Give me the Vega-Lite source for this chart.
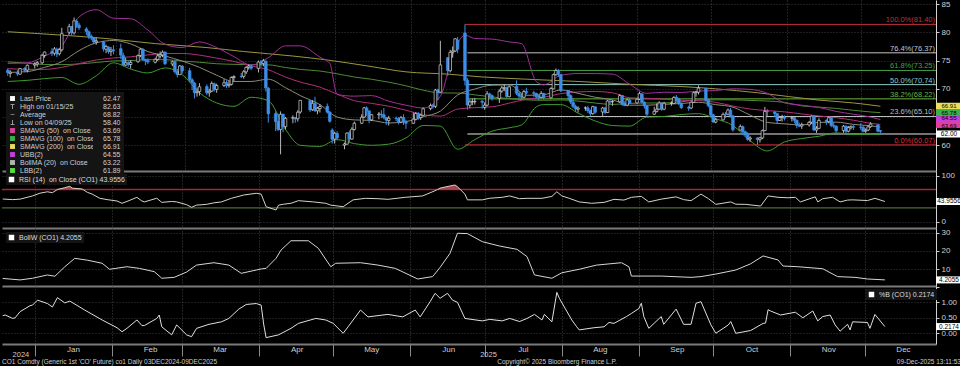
{
"$schema": "https://vega.github.io/schema/vega-lite/v6.json",
"background": "#000000",
"padding": 0,
"bounds": "flush",
"spacing": 0,
"config": {"view": {"stroke": null}, "font": "Liberation Sans", "axis": {"labelOverlap": false, "labelBound": false}},
"resolve": {
 "scale": {"x": "independent", "y": "independent", "color": "independent", "fill": "independent", "shape": "independent", "strokeDash": "independent"},
 "axis": {"x": "independent", "y": "independent"},
 "legend": {"color": "independent", "fill": "independent", "shape": "independent", "strokeDash": "independent"}
},
"datasets": {
 "ohlc": [
{"d":"2024-12-19","o":73.3,"h":73.6,"l":72.3,"c":72.88},
{"d":"2024-12-20","o":72.7,"h":73.3,"l":72.0,"c":72.94},
{"d":"2024-12-23","o":72.9,"h":73.3,"l":72.3,"c":72.63},
{"d":"2024-12-24","o":72.6,"h":73.7,"l":72.5,"c":73.58},
{"d":"2024-12-26","o":73.6,"h":73.9,"l":72.9,"c":73.26},
{"d":"2024-12-27","o":73.3,"h":74.3,"l":72.9,"c":74.17},
{"d":"2024-12-30","o":74.2,"h":74.7,"l":73.6,"c":74.39},
{"d":"2024-12-31","o":74.4,"h":74.9,"l":73.9,"c":74.64},
{"d":"2025-01-02","o":74.6,"h":76.2,"l":74.4,"c":75.93},
{"d":"2025-01-03","o":75.9,"h":76.6,"l":75.5,"c":76.51},
{"d":"2025-01-06","o":76.6,"h":77.2,"l":75.8,"c":76.30},
{"d":"2025-01-07","o":76.3,"h":77.4,"l":75.9,"c":77.05},
{"d":"2025-01-08","o":77.0,"h":77.3,"l":75.6,"c":76.16},
{"d":"2025-01-09","o":76.2,"h":77.2,"l":75.9,"c":76.92},
{"d":"2025-01-10","o":76.9,"h":80.8,"l":76.6,"c":79.76},
{"d":"2025-01-13","o":80.0,"h":81.5,"l":79.6,"c":81.01},
{"d":"2025-01-14","o":81.0,"h":81.1,"l":79.5,"c":79.92},
{"d":"2025-01-15","o":79.9,"h":82.63,"l":79.6,"c":82.03},
{"d":"2025-01-16","o":82.0,"h":82.3,"l":80.8,"c":81.29},
{"d":"2025-01-17","o":81.3,"h":81.7,"l":80.4,"c":80.79},
{"d":"2025-01-20","o":80.6,"h":80.9,"l":79.5,"c":80.15},
{"d":"2025-01-21","o":80.1,"h":80.3,"l":78.8,"c":79.29},
{"d":"2025-01-22","o":79.3,"h":79.6,"l":78.6,"c":79.00},
{"d":"2025-01-23","o":79.0,"h":79.1,"l":77.9,"c":78.29},
{"d":"2025-01-24","o":78.3,"h":79.1,"l":77.8,"c":78.50},
{"d":"2025-01-27","o":78.3,"h":78.5,"l":76.6,"c":77.08},
{"d":"2025-01-28","o":77.0,"h":77.8,"l":76.3,"c":77.49},
{"d":"2025-01-29","o":77.4,"h":77.5,"l":76.2,"c":76.58},
{"d":"2025-01-30","o":76.6,"h":77.4,"l":75.8,"c":76.87},
{"d":"2025-01-31","o":76.9,"h":77.7,"l":76.1,"c":76.76},
{"d":"2025-02-03","o":77.1,"h":78.0,"l":75.3,"c":75.96},
{"d":"2025-02-04","o":75.9,"h":76.4,"l":74.0,"c":74.20},
{"d":"2025-02-05","o":74.2,"h":75.5,"l":74.0,"c":74.61},
{"d":"2025-02-06","o":74.6,"h":75.0,"l":73.9,"c":74.29},
{"d":"2025-02-07","o":74.3,"h":75.1,"l":73.6,"c":74.66},
{"d":"2025-02-10","o":74.8,"h":76.1,"l":74.6,"c":75.87},
{"d":"2025-02-11","o":75.9,"h":77.2,"l":75.6,"c":77.00},
{"d":"2025-02-12","o":77.0,"h":77.2,"l":74.9,"c":75.18},
{"d":"2025-02-13","o":75.2,"h":75.3,"l":74.2,"c":75.02},
{"d":"2025-02-14","o":75.0,"h":75.4,"l":74.4,"c":74.74},
{"d":"2025-02-17","o":74.7,"h":75.5,"l":74.5,"c":75.22},
{"d":"2025-02-18","o":75.2,"h":76.2,"l":74.9,"c":75.84},
{"d":"2025-02-19","o":75.8,"h":76.6,"l":75.4,"c":76.04},
{"d":"2025-02-20","o":76.0,"h":76.8,"l":75.6,"c":76.48},
{"d":"2025-02-21","o":76.5,"h":76.6,"l":74.2,"c":74.43},
{"d":"2025-02-24","o":74.4,"h":75.0,"l":74.0,"c":74.78},
{"d":"2025-02-25","o":74.8,"h":75.0,"l":72.7,"c":73.02},
{"d":"2025-02-26","o":73.0,"h":73.5,"l":72.0,"c":72.53},
{"d":"2025-02-27","o":72.5,"h":74.2,"l":72.5,"c":74.04},
{"d":"2025-02-28","o":74.0,"h":74.2,"l":72.7,"c":73.18},
{"d":"2025-03-03","o":73.2,"h":73.7,"l":71.2,"c":71.62},
{"d":"2025-03-04","o":71.6,"h":71.9,"l":69.8,"c":71.04},
{"d":"2025-03-05","o":71.0,"h":71.2,"l":68.3,"c":69.30},
{"d":"2025-03-06","o":69.3,"h":70.2,"l":68.6,"c":69.46},
{"d":"2025-03-07","o":69.5,"h":71.0,"l":68.8,"c":70.36},
{"d":"2025-03-10","o":70.4,"h":70.8,"l":68.9,"c":69.28},
{"d":"2025-03-11","o":69.3,"h":70.0,"l":68.6,"c":69.56},
{"d":"2025-03-12","o":69.6,"h":71.3,"l":69.4,"c":70.95},
{"d":"2025-03-13","o":70.9,"h":71.1,"l":69.5,"c":69.88},
{"d":"2025-03-14","o":69.9,"h":70.9,"l":69.3,"c":70.58},
{"d":"2025-03-17","o":70.6,"h":71.7,"l":70.3,"c":71.07},
{"d":"2025-03-18","o":71.1,"h":71.5,"l":70.1,"c":70.56},
{"d":"2025-03-19","o":70.6,"h":71.4,"l":70.2,"c":70.78},
{"d":"2025-03-20","o":70.8,"h":72.2,"l":70.6,"c":72.00},
{"d":"2025-03-21","o":72.0,"h":72.4,"l":71.3,"c":72.16},
{"d":"2025-03-24","o":72.2,"h":72.8,"l":71.9,"c":72.16},
{"d":"2025-03-25","o":72.2,"h":73.3,"l":71.8,"c":73.02},
{"d":"2025-03-26","o":73.0,"h":74.0,"l":72.6,"c":73.79},
{"d":"2025-03-27","o":73.8,"h":74.3,"l":73.4,"c":74.03},
{"d":"2025-03-28","o":74.0,"h":74.3,"l":73.3,"c":73.63},
{"d":"2025-03-31","o":73.6,"h":75.0,"l":72.9,"c":74.74},
{"d":"2025-04-01","o":74.7,"h":75.1,"l":74.0,"c":74.49},
{"d":"2025-04-02","o":74.5,"h":75.3,"l":74.0,"c":74.95},
{"d":"2025-04-03","o":74.9,"h":75.0,"l":69.5,"c":70.14},
{"d":"2025-04-04","o":70.1,"h":70.3,"l":64.0,"c":65.58},
{"d":"2025-04-07","o":65.6,"h":66.0,"l":62.5,"c":64.21},
{"d":"2025-04-08","o":64.2,"h":65.6,"l":62.5,"c":62.82},
{"d":"2025-04-09","o":62.8,"h":66.0,"l":58.40,"c":65.48},
{"d":"2025-04-10","o":65.5,"h":65.6,"l":62.3,"c":63.33},
{"d":"2025-04-11","o":63.3,"h":65.0,"l":62.8,"c":64.76},
{"d":"2025-04-14","o":64.8,"h":65.3,"l":63.9,"c":64.88},
{"d":"2025-04-15","o":64.9,"h":65.0,"l":64.0,"c":64.67},
{"d":"2025-04-16","o":64.7,"h":66.2,"l":64.2,"c":65.85},
{"d":"2025-04-17","o":65.9,"h":68.0,"l":65.6,"c":67.96},
{"d":"2025-04-21","o":67.9,"h":68.0,"l":65.9,"c":66.26},
{"d":"2025-04-22","o":66.3,"h":68.0,"l":66.1,"c":67.44},
{"d":"2025-04-23","o":67.4,"h":68.6,"l":65.9,"c":66.12},
{"d":"2025-04-24","o":66.1,"h":66.8,"l":65.5,"c":66.55},
{"d":"2025-04-25","o":66.5,"h":67.3,"l":65.8,"c":66.87},
{"d":"2025-04-28","o":66.9,"h":67.4,"l":65.6,"c":65.86},
{"d":"2025-04-29","o":65.9,"h":66.0,"l":64.0,"c":64.25},
{"d":"2025-04-30","o":62.7,"h":63.0,"l":60.3,"c":61.06},
{"d":"2025-05-01","o":61.1,"h":62.4,"l":60.3,"c":62.13},
{"d":"2025-05-02","o":62.1,"h":62.5,"l":60.9,"c":61.29},
{"d":"2025-05-05","o":60.0,"h":60.5,"l":59.3,"c":60.23},
{"d":"2025-05-06","o":60.2,"h":62.3,"l":60.1,"c":62.15},
{"d":"2025-05-07","o":62.2,"h":62.6,"l":60.6,"c":61.12},
{"d":"2025-05-08","o":61.1,"h":63.2,"l":61.0,"c":62.84},
{"d":"2025-05-09","o":62.8,"h":64.2,"l":62.6,"c":63.91},
{"d":"2025-05-12","o":63.9,"h":65.5,"l":63.8,"c":64.96},
{"d":"2025-05-13","o":65.0,"h":66.8,"l":64.8,"c":66.63},
{"d":"2025-05-14","o":66.6,"h":66.9,"l":65.2,"c":66.09},
{"d":"2025-05-15","o":66.1,"h":66.1,"l":63.9,"c":64.53},
{"d":"2025-05-16","o":64.5,"h":65.5,"l":64.3,"c":65.41},
{"d":"2025-05-19","o":65.4,"h":65.9,"l":64.6,"c":65.54},
{"d":"2025-05-20","o":65.5,"h":66.2,"l":64.8,"c":65.38},
{"d":"2025-05-21","o":65.4,"h":66.6,"l":64.6,"c":64.91},
{"d":"2025-05-22","o":64.9,"h":65.0,"l":63.6,"c":64.44},
{"d":"2025-05-23","o":64.4,"h":65.2,"l":63.5,"c":64.78},
{"d":"2025-05-26","o":64.8,"h":65.1,"l":64.3,"c":64.74},
{"d":"2025-05-27","o":64.7,"h":65.0,"l":63.7,"c":64.09},
{"d":"2025-05-28","o":64.1,"h":65.2,"l":63.9,"c":64.90},
{"d":"2025-05-29","o":64.9,"h":65.5,"l":63.6,"c":64.15},
{"d":"2025-05-30","o":64.2,"h":64.5,"l":62.9,"c":63.90},
{"d":"2025-06-02","o":63.9,"h":65.8,"l":63.8,"c":64.63},
{"d":"2025-06-03","o":64.6,"h":65.9,"l":64.4,"c":65.63},
{"d":"2025-06-04","o":65.6,"h":65.9,"l":64.5,"c":64.86},
{"d":"2025-06-05","o":64.9,"h":65.6,"l":64.5,"c":65.34},
{"d":"2025-06-06","o":65.3,"h":66.7,"l":65.2,"c":66.47},
{"d":"2025-06-09","o":66.5,"h":67.4,"l":66.2,"c":67.04},
{"d":"2025-06-10","o":67.0,"h":67.3,"l":66.5,"c":66.87},
{"d":"2025-06-11","o":66.9,"h":70.0,"l":66.6,"c":69.77},
{"d":"2025-06-12","o":69.8,"h":70.0,"l":68.0,"c":69.36},
{"d":"2025-06-13","o":69.4,"h":78.5,"l":69.3,"c":74.23},
{"d":"2025-06-16","o":75.5,"h":75.6,"l":72.3,"c":73.23},
{"d":"2025-06-17","o":73.2,"h":76.9,"l":72.9,"c":76.45},
{"d":"2025-06-18","o":76.5,"h":77.5,"l":75.5,"c":76.70},
{"d":"2025-06-19","o":76.7,"h":79.0,"l":76.5,"c":78.85},
{"d":"2025-06-20","o":78.6,"h":79.2,"l":76.3,"c":77.01},
{"d":"2025-06-23","o":79.9,"h":81.40,"l":70.6,"c":71.48},
{"d":"2025-06-24","o":71.5,"h":71.9,"l":66.3,"c":67.14},
{"d":"2025-06-25","o":67.1,"h":68.1,"l":66.6,"c":67.68},
{"d":"2025-06-26","o":67.7,"h":68.3,"l":67.1,"c":67.73},
{"d":"2025-06-27","o":67.7,"h":68.4,"l":67.2,"c":67.77},
{"d":"2025-06-30","o":67.8,"h":68.0,"l":66.5,"c":67.61},
{"d":"2025-07-01","o":66.7,"h":67.6,"l":66.3,"c":67.11},
{"d":"2025-07-02","o":67.1,"h":69.6,"l":66.9,"c":69.11},
{"d":"2025-07-03","o":69.1,"h":69.3,"l":68.3,"c":68.80},
{"d":"2025-07-04","o":68.8,"h":69.0,"l":67.9,"c":68.30},
{"d":"2025-07-07","o":68.3,"h":69.9,"l":67.5,"c":69.58},
{"d":"2025-07-08","o":69.6,"h":70.5,"l":69.3,"c":70.15},
{"d":"2025-07-09","o":70.1,"h":70.8,"l":69.6,"c":70.19},
{"d":"2025-07-10","o":70.2,"h":70.4,"l":68.4,"c":68.64},
{"d":"2025-07-11","o":68.6,"h":70.6,"l":68.5,"c":70.36},
{"d":"2025-07-14","o":70.4,"h":71.5,"l":68.9,"c":69.21},
{"d":"2025-07-15","o":69.2,"h":69.6,"l":68.3,"c":68.71},
{"d":"2025-07-16","o":68.7,"h":69.2,"l":68.1,"c":68.52},
{"d":"2025-07-17","o":68.5,"h":69.8,"l":68.3,"c":69.52},
{"d":"2025-07-18","o":69.5,"h":70.2,"l":69.0,"c":69.28},
{"d":"2025-07-21","o":69.3,"h":69.6,"l":68.6,"c":69.21},
{"d":"2025-07-22","o":69.2,"h":69.3,"l":68.3,"c":68.59},
{"d":"2025-07-23","o":68.6,"h":69.0,"l":68.0,"c":68.51},
{"d":"2025-07-24","o":68.5,"h":69.6,"l":68.3,"c":69.18},
{"d":"2025-07-25","o":69.2,"h":69.3,"l":68.1,"c":68.44},
{"d":"2025-07-28","o":68.4,"h":70.3,"l":68.3,"c":70.04},
{"d":"2025-07-29","o":70.0,"h":72.7,"l":69.9,"c":72.51},
{"d":"2025-07-30","o":72.5,"h":73.6,"l":72.3,"c":73.24},
{"d":"2025-07-31","o":73.2,"h":73.5,"l":72.1,"c":72.53},
{"d":"2025-08-01","o":72.5,"h":72.6,"l":69.4,"c":69.67},
{"d":"2025-08-04","o":69.7,"h":69.8,"l":68.0,"c":68.76},
{"d":"2025-08-05","o":68.8,"h":69.0,"l":67.3,"c":67.64},
{"d":"2025-08-06","o":67.6,"h":68.3,"l":66.6,"c":66.89},
{"d":"2025-08-07","o":66.9,"h":67.2,"l":65.9,"c":66.43},
{"d":"2025-08-08","o":66.4,"h":66.9,"l":65.8,"c":66.59},
{"d":"2025-08-11","o":66.6,"h":66.9,"l":66.1,"c":66.63},
{"d":"2025-08-12","o":66.6,"h":67.0,"l":65.7,"c":66.12},
{"d":"2025-08-13","o":66.1,"h":66.3,"l":65.1,"c":65.63},
{"d":"2025-08-14","o":65.6,"h":67.0,"l":65.4,"c":66.84},
{"d":"2025-08-15","o":66.8,"h":66.9,"l":65.6,"c":65.85},
{"d":"2025-08-18","o":65.9,"h":66.8,"l":65.2,"c":66.60},
{"d":"2025-08-19","o":66.6,"h":66.8,"l":65.5,"c":65.79},
{"d":"2025-08-20","o":65.8,"h":68.0,"l":65.7,"c":67.84},
{"d":"2025-08-21","o":67.8,"h":68.2,"l":67.3,"c":67.67},
{"d":"2025-08-22","o":67.7,"h":68.0,"l":67.0,"c":67.73},
{"d":"2025-08-25","o":67.7,"h":69.1,"l":67.6,"c":68.80},
{"d":"2025-08-26","o":68.8,"h":68.9,"l":67.0,"c":67.22},
{"d":"2025-08-27","o":67.2,"h":67.8,"l":66.9,"c":67.05},
{"d":"2025-08-28","o":67.1,"h":68.3,"l":66.9,"c":68.05},
{"d":"2025-08-29","o":68.0,"h":68.4,"l":67.3,"c":67.48},
{"d":"2025-09-01","o":67.5,"h":68.3,"l":67.4,"c":68.15},
{"d":"2025-09-02","o":68.2,"h":69.5,"l":68.0,"c":69.14},
{"d":"2025-09-03","o":69.1,"h":69.2,"l":67.4,"c":67.60},
{"d":"2025-09-04","o":67.6,"h":67.8,"l":66.5,"c":66.99},
{"d":"2025-09-05","o":67.0,"h":67.1,"l":65.1,"c":65.50},
{"d":"2025-09-08","o":65.5,"h":66.8,"l":65.4,"c":66.02},
{"d":"2025-09-09","o":66.0,"h":67.4,"l":65.8,"c":66.39},
{"d":"2025-09-10","o":66.4,"h":67.8,"l":66.3,"c":67.49},
{"d":"2025-09-11","o":67.5,"h":67.6,"l":66.1,"c":66.37},
{"d":"2025-09-12","o":66.4,"h":67.7,"l":66.2,"c":67.44},
{"d":"2025-09-15","o":67.4,"h":67.8,"l":67.0,"c":67.44},
{"d":"2025-09-16","o":67.4,"h":68.7,"l":67.3,"c":68.47},
{"d":"2025-09-17","o":68.5,"h":68.9,"l":67.7,"c":68.22},
{"d":"2025-09-18","o":68.2,"h":68.4,"l":67.1,"c":67.44},
{"d":"2025-09-19","o":67.4,"h":67.6,"l":66.4,"c":66.68},
{"d":"2025-09-22","o":66.7,"h":67.0,"l":66.1,"c":66.57},
{"d":"2025-09-23","o":66.6,"h":67.8,"l":66.4,"c":67.63},
{"d":"2025-09-24","o":67.6,"h":69.5,"l":67.5,"c":69.31},
{"d":"2025-09-25","o":69.3,"h":69.6,"l":68.6,"c":69.42},
{"d":"2025-09-26","o":69.4,"h":70.6,"l":69.0,"c":70.13},
{"d":"2025-09-29","o":70.1,"h":70.1,"l":67.8,"c":67.97},
{"d":"2025-09-30","o":68.0,"h":68.1,"l":66.7,"c":67.02},
{"d":"2025-10-01","o":67.0,"h":67.2,"l":65.1,"c":65.35},
{"d":"2025-10-02","o":65.4,"h":65.6,"l":64.0,"c":64.11},
{"d":"2025-10-03","o":64.1,"h":64.9,"l":63.9,"c":64.53},
{"d":"2025-10-06","o":64.5,"h":65.8,"l":64.4,"c":65.47},
{"d":"2025-10-07","o":65.5,"h":65.9,"l":64.8,"c":65.45},
{"d":"2025-10-08","o":65.5,"h":66.5,"l":65.3,"c":66.25},
{"d":"2025-10-09","o":66.2,"h":66.6,"l":64.9,"c":65.22},
{"d":"2025-10-10","o":65.2,"h":65.4,"l":62.4,"c":62.73},
{"d":"2025-10-13","o":62.7,"h":63.7,"l":62.6,"c":63.32},
{"d":"2025-10-14","o":63.3,"h":63.5,"l":61.8,"c":62.39},
{"d":"2025-10-15","o":62.4,"h":62.6,"l":61.5,"c":61.91},
{"d":"2025-10-16","o":61.9,"h":62.3,"l":60.8,"c":61.06},
{"d":"2025-10-17","o":61.1,"h":61.6,"l":60.6,"c":61.29},
{"d":"2025-10-20","o":61.3,"h":61.4,"l":60.07,"c":61.01},
{"d":"2025-10-21","o":61.0,"h":61.5,"l":60.5,"c":61.32},
{"d":"2025-10-22","o":61.3,"h":62.8,"l":61.1,"c":62.59},
{"d":"2025-10-23","o":62.6,"h":66.8,"l":62.5,"c":65.99},
{"d":"2025-10-24","o":66.0,"h":66.4,"l":65.2,"c":65.94},
{"d":"2025-10-27","o":65.9,"h":66.0,"l":65.0,"c":65.62},
{"d":"2025-10-28","o":65.6,"h":65.7,"l":63.9,"c":64.40},
{"d":"2025-10-29","o":64.4,"h":65.2,"l":64.3,"c":64.92},
{"d":"2025-10-30","o":64.9,"h":65.4,"l":64.2,"c":65.00},
{"d":"2025-10-31","o":65.0,"h":65.3,"l":64.4,"c":64.77},
{"d":"2025-11-03","o":64.8,"h":65.2,"l":64.2,"c":64.89},
{"d":"2025-11-04","o":64.9,"h":65.0,"l":63.9,"c":64.44},
{"d":"2025-11-05","o":64.4,"h":64.6,"l":63.0,"c":63.52},
{"d":"2025-11-06","o":63.5,"h":64.0,"l":63.2,"c":63.38},
{"d":"2025-11-07","o":63.4,"h":64.0,"l":62.9,"c":63.63},
{"d":"2025-11-10","o":63.6,"h":64.3,"l":63.3,"c":64.06},
{"d":"2025-11-11","o":64.1,"h":65.3,"l":63.8,"c":65.16},
{"d":"2025-11-12","o":65.2,"h":65.2,"l":62.5,"c":62.71},
{"d":"2025-11-13","o":62.7,"h":63.4,"l":62.2,"c":63.01},
{"d":"2025-11-14","o":63.0,"h":64.8,"l":62.9,"c":64.39},
{"d":"2025-11-17","o":64.4,"h":64.6,"l":63.6,"c":64.20},
{"d":"2025-11-18","o":64.2,"h":65.1,"l":63.9,"c":64.89},
{"d":"2025-11-19","o":64.9,"h":64.9,"l":63.2,"c":63.51},
{"d":"2025-11-20","o":63.5,"h":64.1,"l":63.0,"c":63.38},
{"d":"2025-11-21","o":63.4,"h":63.5,"l":62.3,"c":62.56},
{"d":"2025-11-24","o":62.6,"h":63.6,"l":62.2,"c":63.37},
{"d":"2025-11-25","o":63.4,"h":63.5,"l":61.9,"c":62.48},
{"d":"2025-11-26","o":62.5,"h":63.4,"l":62.3,"c":63.13},
{"d":"2025-11-27","o":63.1,"h":63.5,"l":62.8,"c":63.34},
{"d":"2025-11-28","o":63.3,"h":63.6,"l":62.7,"c":63.20},
{"d":"2025-12-01","o":63.2,"h":63.9,"l":62.7,"c":63.17},
{"d":"2025-12-02","o":63.2,"h":63.5,"l":62.3,"c":62.45},
{"d":"2025-12-03","o":62.5,"h":63.0,"l":62.2,"c":62.67},
{"d":"2025-12-04","o":62.7,"h":63.5,"l":62.5,"c":63.26},
{"d":"2025-12-05","o":63.3,"h":64.1,"l":63.1,"c":63.75},
{"d":"2025-12-08","o":63.6,"h":63.8,"l":62.3,"c":62.49},
{"d":"2025-12-09","o":62.6,"h":62.7,"l":62.0,"c":62.47}
 ],
 "sma50": [
{"d":"2024-12-19","v":73.56},{"d":"2024-12-27","v":73.45},{"d":"2025-01-03","v":73.44},{"d":"2025-01-10","v":73.8},{"d":"2025-01-17","v":74.46},{"d":"2025-01-24","v":75.1},{"d":"2025-01-31","v":75.46},{"d":"2025-02-07","v":75.66},{"d":"2025-02-14","v":76.0},{"d":"2025-02-21","v":76.24},{"d":"2025-02-28","v":76.26},{"d":"2025-03-07","v":75.96},{"d":"2025-03-14","v":75.43},{"d":"2025-03-21","v":74.84},{"d":"2025-03-28","v":74.07},{"d":"2025-04-04","v":73.37},{"d":"2025-04-11","v":72.08},{"d":"2025-04-17","v":71.19},{"d":"2025-04-25","v":70.3},{"d":"2025-05-02","v":69.06},{"d":"2025-05-09","v":67.91},{"d":"2025-05-16","v":67.42},{"d":"2025-05-23","v":66.91},{"d":"2025-05-30","v":66.21},{"d":"2025-06-06","v":65.42},{"d":"2025-06-13","v":65.17},{"d":"2025-06-20","v":66.41},{"d":"2025-06-27","v":66.66},{"d":"2025-07-04","v":66.81},{"d":"2025-07-11","v":67.46},{"d":"2025-07-18","v":68.16},{"d":"2025-07-25","v":68.49},{"d":"2025-08-01","v":69.15},{"d":"2025-08-08","v":69.45},{"d":"2025-08-15","v":69.53},{"d":"2025-08-22","v":69.29},{"d":"2025-08-29","v":68.41},{"d":"2025-09-05","v":68.32},{"d":"2025-09-12","v":68.17},{"d":"2025-09-19","v":67.95},{"d":"2025-09-26","v":67.91},{"d":"2025-10-03","v":67.61},{"d":"2025-10-10","v":66.95},{"d":"2025-10-17","v":66.42},{"d":"2025-10-24","v":66.14},{"d":"2025-10-31","v":65.92},{"d":"2025-11-07","v":65.55},{"d":"2025-11-14","v":65.19},{"d":"2025-11-21","v":64.89},{"d":"2025-11-28","v":64.44},{"d":"2025-12-05","v":63.89},{"d":"2025-12-09","v":63.69}
 ],
 "sma100": [
{"d":"2024-12-19","v":74.76},{"d":"2024-12-27","v":74.53},{"d":"2025-01-03","v":74.3},{"d":"2025-01-10","v":74.28},{"d":"2025-01-17","v":74.4},{"d":"2025-01-24","v":74.66},{"d":"2025-01-31","v":74.93},{"d":"2025-02-07","v":75.0},{"d":"2025-02-14","v":75.15},{"d":"2025-02-21","v":75.16},{"d":"2025-02-28","v":74.91},{"d":"2025-03-07","v":74.7},{"d":"2025-03-14","v":74.44},{"d":"2025-03-21","v":74.33},{"d":"2025-03-28","v":74.27},{"d":"2025-04-04","v":74.24},{"d":"2025-04-11","v":73.77},{"d":"2025-04-17","v":73.43},{"d":"2025-04-25","v":73.15},{"d":"2025-05-02","v":72.65},{"d":"2025-05-09","v":72.09},{"d":"2025-05-16","v":71.69},{"d":"2025-05-23","v":71.17},{"d":"2025-05-30","v":70.53},{"d":"2025-06-06","v":69.75},{"d":"2025-06-13","v":69.27},{"d":"2025-06-20","v":69.25},{"d":"2025-06-27","v":68.93},{"d":"2025-07-04","v":68.56},{"d":"2025-07-11","v":68.26},{"d":"2025-07-18","v":68.04},{"d":"2025-07-25","v":67.96},{"d":"2025-08-01","v":68.03},{"d":"2025-08-08","v":67.83},{"d":"2025-08-15","v":67.48},{"d":"2025-08-22","v":67.23},{"d":"2025-08-29","v":67.41},{"d":"2025-09-05","v":67.49},{"d":"2025-09-12","v":67.49},{"d":"2025-09-19","v":67.7},{"d":"2025-09-26","v":68.04},{"d":"2025-10-03","v":68.05},{"d":"2025-10-10","v":68.05},{"d":"2025-10-17","v":67.94},{"d":"2025-10-24","v":67.84},{"d":"2025-10-31","v":67.6},{"d":"2025-11-07","v":66.98},{"d":"2025-11-14","v":66.76},{"d":"2025-11-21","v":66.53},{"d":"2025-11-28","v":66.2},{"d":"2025-12-05","v":65.9},{"d":"2025-12-09","v":65.78}
 ],
 "sma200": [
{"d":"2024-12-19","v":80.1},{"d":"2025-01-10","v":79.5},{"d":"2025-01-28","v":78.9},{"d":"2025-02-17","v":78.0},{"d":"2025-03-10","v":77.3},{"d":"2025-03-25","v":76.6},{"d":"2025-04-14","v":75.8},{"d":"2025-04-28","v":75.1},{"d":"2025-05-15","v":74.0},{"d":"2025-05-30","v":73.0},{"d":"2025-06-16","v":72.6},{"d":"2025-06-30","v":72.1},{"d":"2025-07-18","v":71.7},{"d":"2025-08-08","v":71.3},{"d":"2025-08-29","v":70.8},{"d":"2025-09-19","v":70.4},{"d":"2025-10-03","v":70.0},{"d":"2025-10-20","v":69.3},{"d":"2025-11-14","v":68.0},{"d":"2025-11-28","v":67.5},{"d":"2025-12-09","v":66.91}
 ],
 "bbma": [
{"d":"2024-12-19","v":72.9},{"d":"2024-12-27","v":73.05},{"d":"2025-01-03","v":73.8},{"d":"2025-01-10","v":74.8},{"d":"2025-01-17","v":76.75},{"d":"2025-01-24","v":78.15},{"d":"2025-01-31","v":78.55},{"d":"2025-02-07","v":77.95},{"d":"2025-02-14","v":76.6},{"d":"2025-02-21","v":75.8},{"d":"2025-02-28","v":74.9},{"d":"2025-03-07","v":73.8},{"d":"2025-03-14","v":72.4},{"d":"2025-03-21","v":71.3},{"d":"2025-03-28","v":71.3},{"d":"2025-04-04","v":71.7},{"d":"2025-04-11","v":70.2},{"d":"2025-04-17","v":68.8},{"d":"2025-04-25","v":67.2},{"d":"2025-05-02","v":65.0},{"d":"2025-05-09","v":64.5},{"d":"2025-05-16","v":64.4},{"d":"2025-05-23","v":63.95},{"d":"2025-05-30","v":64.2},{"d":"2025-06-06","v":65.05},{"d":"2025-06-13","v":66.05},{"d":"2025-06-20","v":68.9},{"d":"2025-06-27","v":69.95},{"d":"2025-07-04","v":70.65},{"d":"2025-07-11","v":70.7},{"d":"2025-07-18","v":68.85},{"d":"2025-07-25","v":68.95},{"d":"2025-08-01","v":69.8},{"d":"2025-08-08","v":69.2},{"d":"2025-08-15","v":68.5},{"d":"2025-08-22","v":68.05},{"d":"2025-08-29","v":67.1},{"d":"2025-09-05","v":67.1},{"d":"2025-09-12","v":67.25},{"d":"2025-09-19","v":67.4},{"d":"2025-09-26","v":67.6},{"d":"2025-10-03","v":67.2},{"d":"2025-10-10","v":66.75},{"d":"2025-10-17","v":65.35},{"d":"2025-10-24","v":64.05},{"d":"2025-10-31","v":63.8},{"d":"2025-11-07","v":63.6},{"d":"2025-11-14","v":64.05},{"d":"2025-11-21","v":64.1},{"d":"2025-11-28","v":63.7},{"d":"2025-12-05","v":63.45},{"d":"2025-12-09","v":63.22}
 ],
 "ubb": [
{"d":"2024-12-19","v":74.5},{"d":"2024-12-27","v":74.6},{"d":"2025-01-03","v":75.8},{"d":"2025-01-10","v":77.6},{"d":"2025-01-17","v":82.7},{"d":"2025-01-24","v":84.0},{"d":"2025-01-31","v":82.5},{"d":"2025-02-07","v":82.4},{"d":"2025-02-14","v":80.4},{"d":"2025-02-21","v":77.9},{"d":"2025-02-28","v":77.3},{"d":"2025-03-07","v":78.3},{"d":"2025-03-14","v":77.3},{"d":"2025-03-21","v":75.7},{"d":"2025-03-28","v":74.2},{"d":"2025-04-04","v":75.5},{"d":"2025-04-11","v":77.6},{"d":"2025-04-17","v":77.6},{"d":"2025-04-25","v":75.6},{"d":"2025-04-29","v":74.5},{"d":"2025-05-02","v":69.0},{"d":"2025-05-09","v":68.7},{"d":"2025-05-16","v":68.8},{"d":"2025-05-23","v":67.8},{"d":"2025-05-30","v":67.1},{"d":"2025-06-06","v":66.6},{"d":"2025-06-13","v":68.7},{"d":"2025-06-18","v":76.0},{"d":"2025-06-23","v":79.5},{"d":"2025-06-27","v":78.9},{"d":"2025-07-04","v":78.8},{"d":"2025-07-11","v":78.3},{"d":"2025-07-16","v":78.0},{"d":"2025-07-22","v":71.3},{"d":"2025-07-25","v":70.7},{"d":"2025-08-01","v":72.4},{"d":"2025-08-08","v":72.7},{"d":"2025-08-15","v":72.7},{"d":"2025-08-22","v":72.6},{"d":"2025-08-29","v":70.8},{"d":"2025-09-05","v":69.2},{"d":"2025-09-12","v":69.4},{"d":"2025-09-19","v":69.35},{"d":"2025-09-26","v":69.6},{"d":"2025-10-03","v":69.7},{"d":"2025-10-10","v":70.0},{"d":"2025-10-17","v":69.9},{"d":"2025-10-24","v":69.2},{"d":"2025-10-31","v":67.5},{"d":"2025-11-07","v":67.1},{"d":"2025-11-14","v":66.7},{"d":"2025-11-21","v":66.0},{"d":"2025-11-28","v":65.5},{"d":"2025-12-05","v":65.0},{"d":"2025-12-09","v":64.55}
 ],
 "lbb": [
{"d":"2024-12-19","v":71.3},{"d":"2024-12-27","v":71.5},{"d":"2025-01-03","v":71.8},{"d":"2025-01-10","v":72.0},{"d":"2025-01-17","v":70.8},{"d":"2025-01-24","v":72.3},{"d":"2025-01-31","v":74.6},{"d":"2025-02-07","v":73.5},{"d":"2025-02-14","v":72.8},{"d":"2025-02-21","v":73.7},{"d":"2025-02-28","v":72.5},{"d":"2025-03-07","v":69.3},{"d":"2025-03-14","v":67.5},{"d":"2025-03-21","v":66.9},{"d":"2025-03-28","v":68.5},{"d":"2025-04-04","v":67.9},{"d":"2025-04-11","v":62.8},{"d":"2025-04-17","v":60.0},{"d":"2025-04-25","v":59.8},{"d":"2025-05-02","v":61.0},{"d":"2025-05-09","v":60.3},{"d":"2025-05-16","v":60.0},{"d":"2025-05-23","v":60.2},{"d":"2025-05-30","v":61.3},{"d":"2025-06-06","v":63.5},{"d":"2025-06-13","v":63.4},{"d":"2025-06-20","v":59.3},{"d":"2025-06-27","v":61.0},{"d":"2025-07-04","v":62.5},{"d":"2025-07-11","v":63.1},{"d":"2025-07-16","v":63.6},{"d":"2025-07-22","v":66.8},{"d":"2025-07-25","v":67.2},{"d":"2025-08-01","v":67.2},{"d":"2025-08-08","v":65.7},{"d":"2025-08-15","v":64.3},{"d":"2025-08-22","v":63.5},{"d":"2025-08-29","v":63.4},{"d":"2025-09-05","v":65.0},{"d":"2025-09-12","v":65.1},{"d":"2025-09-19","v":65.45},{"d":"2025-09-26","v":65.6},{"d":"2025-10-03","v":64.7},{"d":"2025-10-10","v":63.5},{"d":"2025-10-17","v":60.8},{"d":"2025-10-24","v":59.0},{"d":"2025-10-31","v":60.6},{"d":"2025-11-07","v":61.2},{"d":"2025-11-14","v":61.6},{"d":"2025-11-21","v":62.2},{"d":"2025-11-28","v":61.9},{"d":"2025-12-05","v":61.95},{"d":"2025-12-09","v":61.89}
 ],
 "fib": [
{"d":"2025-06-23","lab":"100.0%(81.40)","v":81.40},
{"d":"2025-06-24","lab":"76.4%(76.37)","v":76.37},
{"d":"2025-06-24","lab":"61.8%(73.25)","v":73.25},
{"d":"2025-06-24","lab":"50.0%(70.74)","v":70.74},
{"d":"2025-06-24","lab":"38.2%(68.22)","v":68.22},
{"d":"2025-06-24","lab":"23.6%(65.10)","v":65.10},
{"d":"2025-06-23","lab":"0.0%(60.07)","v":60.07}
 ],
 "rsi": [
{"d":"2024-12-19","v":49.3},{"d":"2024-12-23","v":48},{"d":"2024-12-26","v":49},{"d":"2024-12-31","v":56},{"d":"2025-01-03","v":62},{"d":"2025-01-06","v":65},{"d":"2025-01-08","v":63},{"d":"2025-01-10","v":70},{"d":"2025-01-13","v":74},{"d":"2025-01-15","v":77},{"d":"2025-01-16","v":73},{"d":"2025-01-20","v":71},{"d":"2025-01-22","v":64},{"d":"2025-01-24","v":60},{"d":"2025-01-27","v":51},{"d":"2025-01-30","v":48},{"d":"2025-02-03","v":45},{"d":"2025-02-05","v":40},{"d":"2025-02-07","v":44},{"d":"2025-02-11","v":53},{"d":"2025-02-13","v":45},{"d":"2025-02-14","v":43},{"d":"2025-02-19","v":51},{"d":"2025-02-21","v":42},{"d":"2025-02-25","v":44},{"d":"2025-02-27","v":43},{"d":"2025-03-03","v":37},{"d":"2025-03-05","v":31.3},{"d":"2025-03-07","v":36},{"d":"2025-03-11","v":37.7},{"d":"2025-03-14","v":41},{"d":"2025-03-17","v":43},{"d":"2025-03-21","v":50.8},{"d":"2025-03-26","v":58},{"d":"2025-03-31","v":61.7},{"d":"2025-04-02","v":60},{"d":"2025-04-04","v":32.6},{"d":"2025-04-08","v":25.4},{"d":"2025-04-09","v":36},{"d":"2025-04-11","v":38},{"d":"2025-04-14","v":40},{"d":"2025-04-17","v":45.7},{"d":"2025-04-23","v":43},{"d":"2025-04-28","v":40},{"d":"2025-04-30","v":36},{"d":"2025-05-05","v":32.6},{"d":"2025-05-09","v":47.5},{"d":"2025-05-14","v":50.8},{"d":"2025-05-19","v":50},{"d":"2025-05-23","v":48.6},{"d":"2025-05-30","v":53},{"d":"2025-06-06","v":56},{"d":"2025-06-11","v":67.4},{"d":"2025-06-12","v":70},{"d":"2025-06-13","v":73},{"d":"2025-06-17","v":77.6},{"d":"2025-06-19","v":79.8},{"d":"2025-06-20","v":76},{"d":"2025-06-23","v":60},{"d":"2025-06-24","v":47.5},{"d":"2025-06-30","v":47.5},{"d":"2025-07-03","v":51},{"d":"2025-07-08","v":53},{"d":"2025-07-11","v":56},{"d":"2025-07-15","v":50},{"d":"2025-07-18","v":50.8},{"d":"2025-07-24","v":50.8},{"d":"2025-07-28","v":55},{"d":"2025-07-30","v":65},{"d":"2025-08-01","v":56},{"d":"2025-08-04","v":50.8},{"d":"2025-08-08","v":43},{"d":"2025-08-13","v":40},{"d":"2025-08-18","v":42},{"d":"2025-08-22","v":48.6},{"d":"2025-08-26","v":47},{"d":"2025-08-29","v":53},{"d":"2025-09-02","v":55},{"d":"2025-09-05","v":43},{"d":"2025-09-10","v":49},{"d":"2025-09-16","v":54},{"d":"2025-09-19","v":48},{"d":"2025-09-22","v":45.7},{"d":"2025-09-26","v":60},{"d":"2025-09-29","v":50},{"d":"2025-10-02","v":37.7},{"d":"2025-10-08","v":43},{"d":"2025-10-10","v":38},{"d":"2025-10-14","v":37.7},{"d":"2025-10-20","v":34},{"d":"2025-10-23","v":56},{"d":"2025-10-27","v":53},{"d":"2025-10-31","v":52},{"d":"2025-11-03","v":53},{"d":"2025-11-05","v":43},{"d":"2025-11-11","v":54},{"d":"2025-11-12","v":43},{"d":"2025-11-14","v":50},{"d":"2025-11-18","v":53},{"d":"2025-11-21","v":43},{"d":"2025-11-24","v":47},{"d":"2025-11-26","v":47.5},{"d":"2025-12-02","v":46},{"d":"2025-12-05","v":50.8},{"d":"2025-12-09","v":43.96}
 ],
 "rob": [
{"d":"2025-01-10","v":70,"g":"a"},{"d":"2025-01-13","v":74,"g":"a"},{"d":"2025-01-15","v":77,"g":"a"},{"d":"2025-01-16","v":73,"g":"a"},{"d":"2025-01-20","v":71,"g":"a"},{"d":"2025-01-20T07:00:00","v":70,"g":"a"},
{"d":"2025-06-12","v":70,"g":"b"},{"d":"2025-06-13","v":73,"g":"b"},{"d":"2025-06-17","v":77.6,"g":"b"},{"d":"2025-06-19","v":79.8,"g":"b"},{"d":"2025-06-20","v":76,"g":"b"},{"d":"2025-06-21T03:00:00","v":70,"g":"b"}
 ],
 "bw": [
{"d":"2024-12-19","v":5.0},{"d":"2024-12-26","v":4.2},{"d":"2024-12-31","v":5.1},{"d":"2025-01-06","v":6.9},{"d":"2025-01-09","v":6.2},{"d":"2025-01-13","v":11.4},{"d":"2025-01-17","v":16.0},{"d":"2025-01-22","v":15.0},{"d":"2025-01-28","v":13.3},{"d":"2025-01-31","v":10.0},{"d":"2025-02-07","v":11.4},{"d":"2025-02-12","v":10.5},{"d":"2025-02-18","v":8.7},{"d":"2025-02-21","v":5.1},{"d":"2025-02-26","v":5.6},{"d":"2025-03-03","v":8.5},{"d":"2025-03-07","v":12.3},{"d":"2025-03-14","v":13.6},{"d":"2025-03-20","v":12.3},{"d":"2025-03-25","v":7.8},{"d":"2025-03-31","v":9.6},{"d":"2025-04-02","v":10.2},{"d":"2025-04-04","v":10.5},{"d":"2025-04-08","v":16},{"d":"2025-04-10","v":20.5},{"d":"2025-04-14","v":25.6},{"d":"2025-04-21","v":25.6},{"d":"2025-04-25","v":21.5},{"d":"2025-04-30","v":11.4},{"d":"2025-05-02","v":13.3},{"d":"2025-05-12","v":13.6},{"d":"2025-05-19","v":12.3},{"d":"2025-05-26","v":10.5},{"d":"2025-06-04","v":4.7},{"d":"2025-06-10","v":6.0},{"d":"2025-06-13","v":11},{"d":"2025-06-17","v":18.7},{"d":"2025-06-20","v":29.7},{"d":"2025-06-24","v":29.5},{"d":"2025-06-30","v":25.1},{"d":"2025-07-07","v":22.7},{"d":"2025-07-14","v":20.9},{"d":"2025-07-18","v":16.9},{"d":"2025-07-21","v":6.9},{"d":"2025-07-28","v":5.1},{"d":"2025-08-01","v":8.1},{"d":"2025-08-08","v":10.0},{"d":"2025-08-15","v":12.3},{"d":"2025-08-25","v":13.6},{"d":"2025-08-28","v":11.4},{"d":"2025-08-29","v":6.3},{"d":"2025-09-10","v":6.3},{"d":"2025-09-22","v":5.6},{"d":"2025-09-26","v":6.0},{"d":"2025-10-02","v":7.4},{"d":"2025-10-10","v":9.6},{"d":"2025-10-16","v":13},{"d":"2025-10-21","v":17.3},{"d":"2025-10-27","v":15.1},{"d":"2025-10-29","v":11.8},{"d":"2025-11-04","v":11.4},{"d":"2025-11-14","v":10.3},{"d":"2025-11-20","v":6.0},{"d":"2025-11-27","v":5.6},{"d":"2025-12-02","v":4.7},{"d":"2025-12-09","v":4.21}
 ],
 "pb": [
{"d":"2024-12-19","v":0.57},{"d":"2024-12-20","v":0.59},{"d":"2024-12-23","v":0.48},{"d":"2024-12-24","v":0.50},{"d":"2024-12-26","v":0.70},{"d":"2024-12-30","v":0.89},{"d":"2024-12-31","v":0.91},{"d":"2025-01-02","v":1.07},{"d":"2025-01-06","v":0.96},{"d":"2025-01-08","v":0.85},{"d":"2025-01-10","v":1.15},{"d":"2025-01-13","v":0.98},{"d":"2025-01-15","v":1.04},{"d":"2025-01-21","v":0.75},{"d":"2025-01-28","v":0.43},{"d":"2025-02-03","v":0.18},{"d":"2025-02-05","v":0.05},{"d":"2025-02-07","v":0.16},{"d":"2025-02-11","v":0.43},{"d":"2025-02-13","v":0.25},{"d":"2025-02-14","v":0.25},{"d":"2025-02-19","v":0.48},{"d":"2025-02-20","v":0.59},{"d":"2025-02-21","v":0.21},{"d":"2025-02-25","v":-0.05},{"d":"2025-02-27","v":0.27},{"d":"2025-03-03","v":-0.05},{"d":"2025-03-05","v":-0.11},{"d":"2025-03-07","v":0.16},{"d":"2025-03-12","v":0.29},{"d":"2025-03-17","v":0.37},{"d":"2025-03-20","v":0.48},{"d":"2025-03-24","v":0.78},{"d":"2025-03-27","v":0.93},{"d":"2025-03-31","v":0.96},{"d":"2025-04-02","v":0.91},{"d":"2025-04-03","v":0.30},{"d":"2025-04-04","v":-0.14},{"d":"2025-04-09","v":-0.05},{"d":"2025-04-14","v":0.16},{"d":"2025-04-17","v":0.32},{"d":"2025-04-24","v":0.48},{"d":"2025-04-28","v":0.43},{"d":"2025-05-01","v":0.32},{"d":"2025-05-05","v":0.0},{"d":"2025-05-07","v":0.21},{"d":"2025-05-12","v":0.75},{"d":"2025-05-15","v":0.53},{"d":"2025-05-23","v":0.61},{"d":"2025-05-29","v":0.53},{"d":"2025-06-03","v":0.75},{"d":"2025-06-05","v":0.53},{"d":"2025-06-09","v":1.02},{"d":"2025-06-11","v":1.29},{"d":"2025-06-13","v":1.13},{"d":"2025-06-16","v":1.29},{"d":"2025-06-18","v":1.07},{"d":"2025-06-20","v":1.0},{"d":"2025-06-23","v":0.48},{"d":"2025-06-30","v":0.40},{"d":"2025-07-03","v":0.45},{"d":"2025-07-08","v":0.40},{"d":"2025-07-11","v":0.48},{"d":"2025-07-15","v":0.38},{"d":"2025-07-18","v":0.48},{"d":"2025-07-21","v":0.61},{"d":"2025-07-24","v":0.43},{"d":"2025-07-25","v":0.61},{"d":"2025-07-28","v":0.37},{"d":"2025-07-30","v":1.32},{"d":"2025-07-31","v":1.13},{"d":"2025-08-05","v":0.43},{"d":"2025-08-07","v":0.21},{"d":"2025-08-08","v":0.11},{"d":"2025-08-14","v":0.18},{"d":"2025-08-18","v":0.21},{"d":"2025-08-20","v":0.35},{"d":"2025-08-22","v":0.32},{"d":"2025-08-27","v":0.54},{"d":"2025-08-29","v":0.64},{"d":"2025-09-01","v":0.80},{"d":"2025-09-02","v":0.97},{"d":"2025-09-03","v":0.54},{"d":"2025-09-05","v":0.16},{"d":"2025-09-10","v":0.54},{"d":"2025-09-11","v":0.29},{"d":"2025-09-16","v":0.78},{"d":"2025-09-19","v":0.29},{"d":"2025-09-22","v":0.29},{"d":"2025-09-24","v":0.97},{"d":"2025-09-26","v":1.02},{"d":"2025-09-30","v":0.27},{"d":"2025-10-02","v":0.0},{"d":"2025-10-07","v":0.27},{"d":"2025-10-08","v":0.38},{"d":"2025-10-10","v":0.0},{"d":"2025-10-16","v":0.09},{"d":"2025-10-21","v":0.32},{"d":"2025-10-22","v":0.33},{"d":"2025-10-23","v":0.76},{"d":"2025-10-24","v":0.72},{"d":"2025-10-28","v":0.59},{"d":"2025-11-03","v":0.68},{"d":"2025-11-06","v":0.50},{"d":"2025-11-10","v":0.72},{"d":"2025-11-12","v":0.40},{"d":"2025-11-14","v":0.54},{"d":"2025-11-17","v":0.59},{"d":"2025-11-19","v":0.27},{"d":"2025-11-21","v":0.07},{"d":"2025-11-24","v":0.29},{"d":"2025-11-25","v":0.11},{"d":"2025-11-26","v":0.37},{"d":"2025-12-02","v":0.35},{"d":"2025-12-03","v":0.16},{"d":"2025-12-05","v":0.61},{"d":"2025-12-09","v":0.2174}
 ],
 "legend": [
{"name":"Last Price","val":"62.47"},{"name":"High on 01/15/25","val":"82.63"},{"name":"Average","val":"68.82"},{"name":"Low on 04/09/25","val":"58.40"},{"name":"SMAVG (50)\u00a0 on Close","val":"63.69"},{"name":"SMAVG (100)\u00a0 on Close","val":"65.78"},{"name":"SMAVG (200)\u00a0 on Close","val":"66.91"},{"name":"UBB(2)","val":"64.55"},{"name":"BollMA (20)\u00a0 on Close","val":"63.22"},{"name":"LBB(2)","val":"61.89"}
 ],
 "ptags": [
{"name":"SMAVG (200)\u00a0 on Close","v":66.91,"t":"66.91"},{"name":"SMAVG (100)\u00a0 on Close","v":65.78,"t":"65.78"},{"name":"UBB(2)","v":64.55,"t":"64.55"},{"name":"SMAVG (50)\u00a0 on Close","v":63.69,"t":"63.69"}
 ]
},
"vconcat": [
 {
  "width": 934, "height": 171,
  "layer": [
   {"data": {"name": "fib"}, "mark": {"type": "rule", "strokeWidth": 1},
    "encoding": {
     "x": {"field": "d", "type": "temporal", "title": null, "scale": {"domain": [{"year": 2024, "month": 12, "date": 18, "hours": 17}, {"year": 2025, "month": 12, "date": 29, "hours": 14}]},
           "axis": {"labels": false, "ticks": false, "domain": true, "domainColor": "#7a7a7a", "domainWidth": 2, "grid": true, "gridColor": "#444444", "gridDash": [1, 2], "tickCount": {"interval": "month", "step": 1}}},
     "x2": {"value": "width"},
     "y": {"field": "v", "type": "quantitative", "title": null, "scale": {"domain": [55.45, 85.72], "nice": false, "zero": false},
           "axis": {"orient": "right", "values": [60, 65, 70, 75, 80, 85], "tickCount": 30, "labelExpr": "datum.value == 65 ? '' : datum.label", "labelOverlap": false, "grid": true, "gridColor": "#3a3a3a", "gridDash": [1, 2], "domainColor": "#d0d0d0", "tickColor": "#d0d0d0", "tickSize": 3, "labelColor": "#d0d0d0", "labelFontSize": 8, "labelPadding": 2}},
     "color": {"field": "lab", "type": "nominal", "legend": null, "scale": {"domain": ["100.0%(81.40)", "76.4%(76.37)", "61.8%(73.25)", "50.0%(70.74)", "38.2%(68.22)", "23.6%(65.10)", "0.0%(60.07)"], "range": ["#c0303c", "#c4c4c4", "#46a046", "#8ec8c0", "#6ab440", "#bdbdbd", "#d83038"]}}
    }},
   {"data": {"values": [{"d": "2025-06-24", "v": 62.0}]}, "mark": {"type": "rule", "color": "#e6e6e6", "strokeWidth": 1},
    "encoding": {"x": {"field": "d", "type": "temporal", "title": null}, "x2": {"value": "width"}, "y": {"field": "v", "type": "quantitative", "title": null}}},
   {"data": {"name": "sma200"}, "mark": {"type": "line", "color": "#9c9640", "strokeWidth": 1, "interpolate": "monotone"},
    "encoding": {"x": {"field": "d", "type": "temporal", "title": null}, "y": {"field": "v", "type": "quantitative", "title": null}}},
   {"data": {"name": "sma100"}, "mark": {"type": "line", "color": "#4f8a32", "strokeWidth": 1, "interpolate": "monotone"},
    "encoding": {"x": {"field": "d", "type": "temporal", "title": null}, "y": {"field": "v", "type": "quantitative", "title": null}}},
   {"data": {"name": "sma50"}, "mark": {"type": "line", "color": "#b0307a", "strokeWidth": 1, "interpolate": "monotone"},
    "encoding": {"x": {"field": "d", "type": "temporal", "title": null}, "y": {"field": "v", "type": "quantitative", "title": null}}},
   {"data": {"name": "bbma"}, "mark": {"type": "line", "color": "#8c8c78", "strokeWidth": 1, "interpolate": "monotone"},
    "encoding": {"x": {"field": "d", "type": "temporal", "title": null}, "y": {"field": "v", "type": "quantitative", "title": null}}},
   {"data": {"name": "ubb"}, "mark": {"type": "line", "color": "#a0309a", "strokeWidth": 1, "interpolate": "monotone"},
    "encoding": {"x": {"field": "d", "type": "temporal", "title": null}, "y": {"field": "v", "type": "quantitative", "title": null}}},
   {"data": {"name": "lbb"}, "mark": {"type": "line", "color": "#3f9a2e", "strokeWidth": 1, "interpolate": "monotone"},
    "encoding": {"x": {"field": "d", "type": "temporal", "title": null}, "y": {"field": "v", "type": "quantitative", "title": null}}},
   {"data": {"name": "ohlc"}, "mark": {"type": "rule", "strokeWidth": 1},
    "encoding": {"x": {"field": "d", "type": "temporal", "title": null}, "y": {"field": "l", "type": "quantitative", "title": null}, "y2": {"field": "h"},
     "stroke": {"condition": {"test": "datum.c < datum.o", "value": "#3d8ee8"}, "value": "#b8b8b8"}}},
   {"data": {"name": "ohlc"}, "mark": {"type": "bar", "size": 2.6, "strokeWidth": 0.7},
    "encoding": {"x": {"field": "d", "type": "temporal", "title": null}, "y": {"field": "o", "type": "quantitative", "title": null}, "y2": {"field": "c"},
     "fill": {"condition": {"test": "datum.c < datum.o", "value": "#3d8ee8"}, "value": "#000000"},
     "stroke": {"condition": {"test": "datum.c < datum.o", "value": "#3d8ee8"}, "value": "#d4d4d4"}}},
   {"data": {"name": "fib"}, "mark": {"type": "text", "align": "right", "baseline": "bottom", "dx": -1, "fontSize": 7.5},
    "encoding": {"x": {"value": "width"}, "y": {"field": "v", "type": "quantitative", "title": null}, "text": {"field": "lab"},
     "color": {"field": "lab", "type": "nominal", "legend": null}}},
   {"data": {"name": "ptags"}, "mark": {"type": "point", "shape": "M-1,-0.27H1V0.27H-1Z", "size": 676, "filled": true, "opacity": 1, "strokeWidth": 0, "xOffset": 13},
    "encoding": {"x": {"value": "width"}, "y": {"field": "v", "type": "quantitative", "title": null},
     "fill": {"field": "name", "type": "nominal"}}},
   {"data": {"name": "ptags"}, "mark": {"type": "text", "dx": 13, "fontSize": 6, "color": "#000000", "align": "center", "baseline": "middle",
     "dy": {"expr": "datum.t == '64.55' ? -1.2 : (datum.t == '63.69' ? 1.3 : 0)"}},
    "encoding": {"x": {"value": "width"}, "y": {"field": "v", "type": "quantitative", "title": null}, "text": {"field": "t"}}},
   {"data": {"values": [{"v": 62.0, "t": "62.00"}]}, "mark": {"type": "point", "shape": "M-1,-0.27H1V0.27H-1Z", "size": 676, "filled": true, "opacity": 1, "color": "#ffffff", "strokeWidth": 0, "xOffset": 13},
    "encoding": {"x": {"value": "width"}, "y": {"field": "v", "type": "quantitative", "title": null}}},
   {"data": {"values": [{"v": 62.0, "t": "62.00"}]}, "mark": {"type": "text", "dx": 13, "fontSize": 6.5, "color": "#000000", "align": "center", "baseline": "middle"},
    "encoding": {"x": {"value": "width"}, "y": {"field": "v", "type": "quantitative", "title": null}, "text": {"field": "t"}}},
   {"data": {"name": "legend"}, "mark": {"type": "point", "filled": true, "opacity": 0},
    "encoding": {
     "fill": {"field": "name", "type": "nominal",
      "scale": {"domain": ["Last Price", "High on 01/15/25", "Average", "Low on 04/09/25", "SMAVG (50)\u00a0 on Close", "SMAVG (100)\u00a0 on Close", "SMAVG (200)\u00a0 on Close", "UBB(2)", "BollMA (20)\u00a0 on Close", "LBB(2)"],
                "range": ["#ffffff", "#9a9a9a", "#9a9a9a", "#9a9a9a", "#e0409c", "#3cb04a", "#e8e05a", "#c440d8", "#b4b4b4", "#58e040"]},
      "legend": {"orient": "none", "legendX": 4, "legendY": 92, "title": null, "symbolOpacity": 1, "symbolSize": 24, "symbolStrokeWidth": 0, "labelColor": "#cfcfcf", "labelFontSize": 7, "rowPadding": 0, "fillColor": "#141414", "padding": 3, "labelOffset": 4}},
     "shape": {"field": "name", "type": "nominal",
      "scale": {"domain": ["Last Price", "High on 01/15/25", "Average", "Low on 04/09/25", "SMAVG (50)\u00a0 on Close", "SMAVG (100)\u00a0 on Close", "SMAVG (200)\u00a0 on Close", "UBB(2)", "BollMA (20)\u00a0 on Close", "LBB(2)"],
                "range": ["square", "M-0.8,-1H0.8V-0.6H0.2V1H-0.2V-0.6H-0.8Z", "M-0.8,-0.15H0.8V0.15H-0.8Z", "M-0.2,-1H0.2V0.6H0.8V1H-0.8V0.6H-0.2Z", "square", "square", "square", "square", "square", "square"]},
      "legend": {"orient": "none", "legendX": 4, "legendY": 92, "title": null, "symbolOpacity": 1, "symbolSize": 24, "symbolStrokeWidth": 0, "labelColor": "#cfcfcf", "labelFontSize": 7, "rowPadding": 0, "fillColor": "#141414", "padding": 3, "labelOffset": 4}},
     "strokeDash": {"field": "val", "type": "nominal",
      "scale": {"domain": ["62.47", "82.63", "68.82", "58.40", "63.69", "65.78", "66.91", "64.55", "63.22", "61.89"]},
      "legend": {"orient": "none", "legendX": 91, "legendY": 92, "title": null, "symbolOpacity": 0, "symbolSize": 1, "symbolStrokeWidth": 0, "labelColor": "#cfcfcf", "labelFontSize": 7, "rowPadding": 0, "fillColor": "#141414", "padding": 3, "labelOffset": 0}}
    }}
  ]
 },
 {
  "width": 934, "height": 57,
  "layer": [
   {"data": {"values": [{}]}, "mark": {"type": "rule", "color": "#a02838", "strokeWidth": 1.3},
    "encoding": {"y": {"datum": 70, "type": "quantitative", "title": null, "scale": {"domain": [-13.7, 110.2], "nice": false, "zero": false}}}},
   {"data": {"values": [{}]}, "mark": {"type": "rule", "color": "#50683c", "strokeWidth": 1.3},
    "encoding": {"y": {"datum": 30, "type": "quantitative", "title": null}}},
   {"data": {"name": "rob"}, "mark": {"type": "area", "color": "#c0505a", "opacity": 0.85},
    "encoding": {"x": {"field": "d", "type": "temporal", "title": null}, "y": {"field": "v", "type": "quantitative", "title": null}, "y2": {"datum": 70}, "detail": {"field": "g"}}},
   {"data": {"name": "rsi"}, "mark": {"type": "line", "color": "#d4d4c6", "strokeWidth": 1},
    "encoding": {
     "x": {"field": "d", "type": "temporal", "title": null, "scale": {"domain": [{"year": 2024, "month": 12, "date": 18, "hours": 17}, {"year": 2025, "month": 12, "date": 29, "hours": 14}]},
           "axis": {"labels": false, "ticks": false, "domain": true, "domainColor": "#7a7a7a", "domainWidth": 2, "grid": true, "gridColor": "#444444", "gridDash": [1, 2], "tickCount": {"interval": "month", "step": 1}}},
     "y": {"field": "v", "type": "quantitative", "title": null,
           "axis": {"orient": "right", "values": [0, 100], "tickCount": 30, "labelOverlap": false, "grid": true, "gridColor": "#3a3a3a", "gridDash": [1, 2], "domainColor": "#d0d0d0", "tickColor": "#d0d0d0", "tickSize": 3, "labelColor": "#d0d0d0", "labelFontSize": 8, "labelPadding": 2}}
    }},
   {"data": {"values": [{"v": 43.9556, "t": "43.9556"}]}, "mark": {"type": "point", "shape": "M-1,-0.27H1V0.27H-1Z", "size": 676, "filled": true, "opacity": 1, "strokeWidth": 0, "xOffset": 13},
    "encoding": {"x": {"value": "width"}, "y": {"field": "v", "type": "quantitative", "title": null},
     "fill": {"datum": "RSI (14)\u00a0 on Close (CO1) 43.9556", "scale": {"range": ["#ffffff"]},
      "legend": {"orient": "none", "legendX": 4, "legendY": 3, "title": null, "symbolType": "square", "symbolSize": 30, "symbolOpacity": 1, "labelColor": "#dcdcdc", "labelFontSize": 7, "fillColor": "#141414", "padding": 2}}}},
   {"data": {"values": [{"v": 43.9556, "t": "43.9556"}]}, "mark": {"type": "text", "dx": 13, "fontSize": 6.5, "color": "#000000", "align": "center", "baseline": "middle"},
    "encoding": {"x": {"value": "width"}, "y": {"field": "v", "type": "quantitative", "title": null}, "text": {"field": "t"}}}
  ]
 },
 {
  "width": 934, "height": 58,
  "layer": [
   {"data": {"name": "bw"}, "mark": {"type": "line", "color": "#d6d6d6", "strokeWidth": 1},
    "encoding": {
     "x": {"field": "d", "type": "temporal", "title": null, "scale": {"domain": [{"year": 2024, "month": 12, "date": 18, "hours": 17}, {"year": 2025, "month": 12, "date": 29, "hours": 14}]},
           "axis": {"labels": false, "ticks": false, "domain": true, "domainColor": "#7a7a7a", "domainWidth": 2, "grid": true, "gridColor": "#444444", "gridDash": [1, 2], "tickCount": {"interval": "month", "step": 1}}},
     "y": {"field": "v", "type": "quantitative", "title": null, "scale": {"domain": [0.87, 32.57], "nice": false, "zero": false},
           "axis": {"orient": "right", "values": [10, 20, 30], "tickCount": 30, "labelOverlap": false, "grid": true, "gridColor": "#3a3a3a", "gridDash": [1, 2], "domainColor": "#d0d0d0", "tickColor": "#d0d0d0", "tickSize": 3, "labelColor": "#d0d0d0", "labelFontSize": 8, "labelPadding": 2}}
    }},
   {"data": {"values": [{"v": 4.2055, "t": "4.2055"}]}, "mark": {"type": "point", "shape": "M-1,-0.27H1V0.27H-1Z", "size": 676, "filled": true, "opacity": 1, "strokeWidth": 0, "xOffset": 13},
    "encoding": {"x": {"value": "width"}, "y": {"field": "v", "type": "quantitative", "title": null},
     "fill": {"datum": "BollW (CO1) 4.2055", "scale": {"range": ["#ffffff"]},
      "legend": {"orient": "none", "legendX": 4, "legendY": 4, "title": null, "symbolType": "square", "symbolSize": 30, "symbolOpacity": 1, "labelColor": "#dcdcdc", "labelFontSize": 7, "fillColor": "#141414", "padding": 2}}}},
   {"data": {"values": [{"v": 4.2055, "t": "4.2055"}]}, "mark": {"type": "text", "dx": 13, "fontSize": 6.5, "color": "#000000", "align": "center", "baseline": "middle"},
    "encoding": {"x": {"value": "width"}, "y": {"field": "v", "type": "quantitative", "title": null}, "text": {"field": "t"}}}
  ]
 },
 {
  "width": 934, "height": 58,
  "layer": [
   {"data": {"name": "pb"}, "mark": {"type": "line", "color": "#e0e0e0", "strokeWidth": 1},
    "encoding": {
     "x": {"field": "d", "type": "temporal", "title": null, "scale": {"domain": [{"year": 2024, "month": 12, "date": 18, "hours": 17}, {"year": 2025, "month": 12, "date": 29, "hours": 14}]},
           "axis": {"labels": true, "format": "%b", "labelOffset": 38, "labelFlush": false, "labelOverlap": false, "labelColor": "#cfcfcf", "labelFontSize": 8, "labelPadding": -11, "ticks": true, "tickSize": 12, "tickColor": "#8a8a8a", "domain": true, "domainColor": "#7a7a7a", "domainWidth": 2, "grid": true, "gridColor": "#444444", "gridDash": [1, 2], "tickCount": {"interval": "month", "step": 1}}},
     "y": {"field": "v", "type": "quantitative", "title": null, "scale": {"domain": [-0.345, 1.526], "nice": false, "zero": false},
           "axis": {"orient": "right", "values": [0, 0.5, 1, 1.5], "tickCount": 30, "labelExpr": "datum.value > 1.2 ? '' : format(datum.value, '.2f')", "labelOverlap": false, "grid": true, "gridColor": "#3a3a3a", "gridDash": [1, 2], "domainColor": "#d0d0d0", "tickColor": "#d0d0d0", "tickSize": 3, "labelColor": "#d0d0d0", "labelFontSize": 8, "labelPadding": 2}}
    }},
   {"data": {"values": [{"v": 0.2174, "t": "0.2174"}]}, "mark": {"type": "point", "shape": "M-1,-0.27H1V0.27H-1Z", "size": 676, "filled": true, "opacity": 1, "strokeWidth": 0, "xOffset": 13},
    "encoding": {"x": {"value": "width"}, "y": {"field": "v", "type": "quantitative", "title": null},
     "fill": {"datum": "%B (CO1) 0.2174", "scale": {"range": ["#ffffff"]},
      "legend": {"orient": "none", "legendX": 864, "legendY": 3, "title": null, "symbolType": "square", "symbolSize": 30, "symbolOpacity": 1, "labelColor": "#dcdcdc", "labelFontSize": 7, "fillColor": "#141414", "padding": 2}}}},
   {"data": {"values": [{"v": 0.2174, "t": "0.2174"}]}, "mark": {"type": "text", "dx": 13, "fontSize": 6.5, "color": "#000000", "align": "center", "baseline": "middle"},
    "encoding": {"x": {"value": "width"}, "y": {"field": "v", "type": "quantitative", "title": null}, "text": {"field": "t"}}}
  ]
 },
 {
  "width": 934, "height": 22,
  "layer": [
   {"data": {"values": [{"d": "2024-12-26T08:00:00", "t": "2024"}, {"d": "2025-07-02T12:00:00", "t": "2025"}]},
    "mark": {"type": "text", "fontSize": 7.5, "color": "#cfcfcf", "align": "center", "baseline": "middle"},
    "encoding": {"x": {"field": "d", "type": "temporal", "title": null, "axis": null, "scale": {"domain": [{"year": 2024, "month": 12, "date": 18, "hours": 17}, {"year": 2025, "month": 12, "date": 29, "hours": 14}]}}, "text": {"field": "t"}}},
   {"data": {"values": [{"d": "2024-12-18T18:00:00", "t": "CO1 Comdty (Generic 1st 'CO' Future) co1 Daily 03DEC2024-09DEC2025"}, {"d": "2025-07-06T00:00:00", "t": "Copyright© 2025 Bloomberg Finance L.P."}]},
    "mark": {"type": "text", "fontSize": 6.5, "color": "#cfcfcf", "align": "left", "baseline": "middle", "dy": 7},
    "encoding": {"x": {"field": "d", "type": "temporal", "title": null}, "text": {"field": "t"}}},
   {"data": {"values": [{"d": "2025-12-29T14:00:00", "t": "09-Dec-2025 13:11:53"}]},
    "mark": {"type": "text", "fontSize": 6.5, "color": "#cfcfcf", "align": "right", "baseline": "middle", "dy": 7, "dx": 25},
    "encoding": {"x": {"field": "d", "type": "temporal", "title": null}, "text": {"field": "t"}}}
  ]
 }
]
}
